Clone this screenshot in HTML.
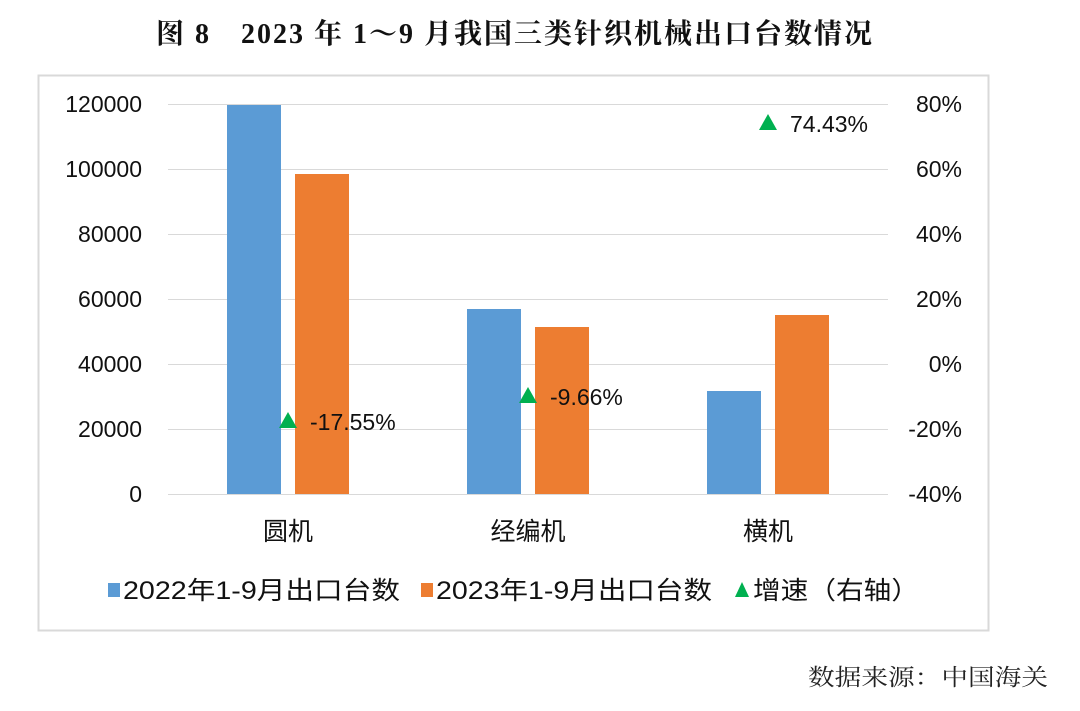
<!DOCTYPE html>
<html><head><meta charset="utf-8"><style>
body{margin:0;background:#fff;width:1080px;height:706px;overflow:hidden}
</style></head><body>
<svg width="1080" height="706" xmlns="http://www.w3.org/2000/svg" font-family="Liberation Sans, Noto Sans CJK SC, sans-serif">
<text x="515" y="43" text-anchor="middle" font-size="28" font-weight="bold" letter-spacing="2" font-family="Liberation Serif, Noto Serif CJK SC, serif" fill="#111">图 8　2023 年 1～9 月我国三类针织机械出口台数情况</text>
<rect x="38.5" y="75.5" width="950" height="555" fill="none" stroke="#d9d9d9" stroke-width="2"/>
<g stroke="#d9d9d9" stroke-width="1">
<line x1="168" x2="888" y1="104.5" y2="104.5"/><line x1="168" x2="888" y1="169.5" y2="169.5"/>
<line x1="168" x2="888" y1="234.5" y2="234.5"/><line x1="168" x2="888" y1="299.5" y2="299.5"/>
<line x1="168" x2="888" y1="364.5" y2="364.5"/><line x1="168" x2="888" y1="429.5" y2="429.5"/>
<line x1="168" x2="888" y1="494.5" y2="494.5"/>
</g>
<g fill="#5b9bd5">
<rect x="227" y="105" width="54" height="389"/><rect x="467" y="309" width="54" height="185"/><rect x="707" y="391" width="54" height="103"/>
</g>
<g fill="#ed7d31">
<rect x="295" y="174" width="54" height="320"/><rect x="535" y="327" width="54" height="167"/><rect x="775" y="315" width="54" height="179"/>
</g>
<g fill="#00b050">
<polygon points="288,412 279,428 297,428"/><polygon points="528,387 519,403 537,403"/><polygon points="768,114 759,130 777,130"/>
</g>
<g font-size="23" fill="#111">
<text x="310" y="430">-17.55%</text><text x="550" y="405">-9.66%</text><text x="790" y="132">74.43%</text>
</g>
<g font-size="23" fill="#111" text-anchor="end">
<text x="142" y="112">120000</text><text x="142" y="177">100000</text><text x="142" y="242">80000</text>
<text x="142" y="307">60000</text><text x="142" y="372">40000</text><text x="142" y="437">20000</text><text x="142" y="502">0</text>
</g>
<g font-size="23" fill="#111" text-anchor="end">
<text x="962" y="112">80%</text><text x="962" y="177">60%</text><text x="962" y="242">40%</text>
<text x="962" y="307">20%</text><text x="962" y="372">0%</text><text x="962" y="437">-20%</text><text x="962" y="502">-40%</text>
</g>
<g font-size="25" fill="#111" text-anchor="middle">
<text x="288" y="540">圆机</text><text x="528" y="540">经编机</text><text x="768" y="540">横机</text>
</g>
<rect x="108" y="583" width="12" height="14" fill="#5b9bd5"/>
<rect x="421" y="583" width="12" height="14" fill="#ed7d31"/>
<polygon points="742,582 735,597 749,597" fill="#00b050"/>
<g font-size="25" fill="#111">
<text x="123" y="599" textLength="277" lengthAdjust="spacingAndGlyphs">2022年1-9月出口台数</text>
<text x="436" y="599" textLength="276" lengthAdjust="spacingAndGlyphs">2023年1-9月出口台数</text>
<text x="753" y="599" textLength="166" lengthAdjust="spacingAndGlyphs">增速（右轴）</text>
</g>
<text x="808" y="685" font-size="23" fill="#222" font-family="Liberation Serif, Noto Serif CJK SC, serif" textLength="240" lengthAdjust="spacingAndGlyphs">数据来源：中国海关</text>
</svg>
</body></html>
